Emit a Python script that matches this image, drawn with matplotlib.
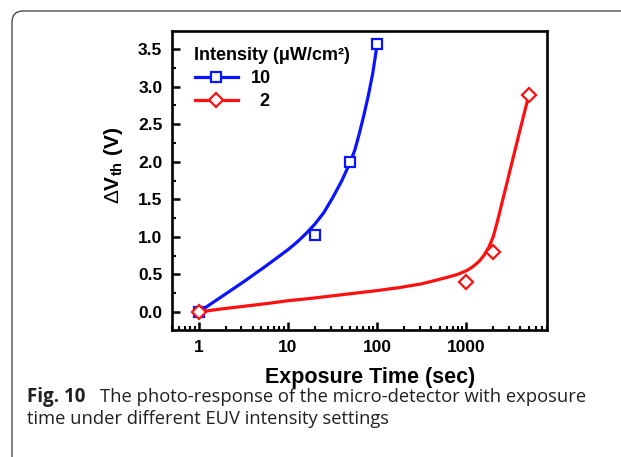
import matplotlib
matplotlib.use("Agg")
import matplotlib.pyplot as plt
from matplotlib.lines import Line2D
from matplotlib.patches import FancyBboxPatch
from matplotlib.transforms import IdentityTransform


# Measured threshold voltage shift
time_10 = [1, 20, 50, 100]
shift_10 = [0.0, 1.02, 2.0, 3.57]

time_2 = [1, 1000, 2000, 5000]
shift_2 = [0.0, 0.40, 0.80, 2.89]

# Fitted trend lines
fit_time_10 = [1, 1.78, 3.16, 5.62, 10, 12.6, 15.8, 20, 25.1, 31.6, 39.8, 50,
               56.2, 63.1, 70.8, 79.4, 89.1, 100]
fit_shift_10 = [0.0, 0.20, 0.40, 0.61, 0.83, 0.93, 1.04, 1.17, 1.32, 1.52, 1.74, 2.0,
                2.16, 2.38, 2.62, 2.88, 3.18, 3.57]

fit_time_2 = [1, 1.78, 3.16, 5.62, 10, 17.8, 31.6, 56.2, 100, 178, 316, 562, 794,
              1000, 1122, 1259, 1413, 1585, 1778, 1995, 2239, 2512, 3162, 3981, 5012]
fit_shift_2 = [0.0, 0.04, 0.075, 0.11, 0.15, 0.18, 0.215, 0.25, 0.285, 0.325, 0.375,
               0.45, 0.50, 0.55, 0.585, 0.63, 0.685, 0.76, 0.86, 1.0, 1.22, 1.46,
               1.94, 2.42, 2.89]

x_ticks = [1, 10, 100, 1000]
x_tick_labels = ["1", "10", "100", "1000"]
y_ticks = [0.0, 0.5, 1.0, 1.5, 2.0, 2.5, 3.0, 3.5]
y_minor_ticks = [0.25, 0.75, 1.25, 1.75, 2.25, 2.75, 3.25]

BLUE = "#0a14ff"
RED = "#ff1010"

plt.rcParams["font.family"] = ["Liberation Sans", "DejaVu Sans"]
plt.rcParams["mathtext.fontset"] = "custom"
plt.rcParams["mathtext.rm"] = "Liberation Sans:bold"
plt.rcParams["mathtext.it"] = "Liberation Sans:bold"
plt.rcParams["mathtext.bf"] = "Liberation Sans:bold"
plt.rcParams["mathtext.sf"] = "Liberation Sans"

W, H = 621, 457
fig = plt.figure(figsize=(W / 100, H / 100), dpi=100)


def fx(px):
    return px / W


def fy(py):
    return 1 - py / H


# Rounded panel border (pixel coordinates, origin bottom-left)
frame = FancyBboxPatch(
    (12, -30), 700, H - 11 + 30,
    boxstyle="round,pad=0,rounding_size=11",
    transform=IdentityTransform(), facecolor="none",
    edgecolor="#3a3a3a", linewidth=0.9
)
fig.patches.append(frame)

ax = fig.add_axes([fx(172), fy(330), fx(547) - fx(172), fy(31) - fy(330)])

ax.plot(fit_time_10, fit_shift_10, color=BLUE, linewidth=2.3,
        solid_joinstyle="round", zorder=2)
ax.plot(fit_time_2, fit_shift_2, color=RED, linewidth=2.3,
        solid_joinstyle="round", zorder=2)

ax.plot(time_10, shift_10, linestyle="none", marker="s", markersize=7,
        markerfacecolor="white", markeredgecolor=BLUE, markeredgewidth=1.6, zorder=3)
ax.plot(time_2, shift_2, linestyle="none", marker="D", markersize=7.5,
        markerfacecolor="white", markeredgecolor=RED, markeredgewidth=1.6, zorder=3)

ax.set_xscale("log")
ax.set_xlim(0.5, 8000)
ax.set_ylim(-0.24, 3.74)
ax.set_xticks(x_ticks)
ax.set_xticklabels(x_tick_labels)
ax.set_yticks(y_ticks)
ax.set_yticks(y_minor_ticks, minor=True)
ax.set_yticklabels([f"{v:.1f}" for v in y_ticks])

for spine in ax.spines.values():
    spine.set_linewidth(1.9)

ax.tick_params(which="major", direction="in", length=5.5, width=1.8,
               labelsize=12.5, top=False, right=False)
ax.tick_params(which="minor", direction="in", length=3, width=1.5,
               top=False, right=False)
ax.tick_params(axis="x", which="major", pad=7)
ax.tick_params(axis="y", which="major", pad=7)
for label in ax.get_xticklabels() + ax.get_yticklabels():
    label.set_fontweight("bold")

ax.set_xlabel("Exposure Time (sec)", fontsize=15.5, fontweight="bold")
ax.xaxis.set_label_coords(0.528, -0.16)
ax.xaxis.label.set_va("center")

ax.set_ylabel(r"$\mathsf{\Delta}$V$_{\rm th}$ (V)", fontsize=15, fontweight="bold")
ax.yaxis.set_label_coords(-0.157, 0.55)
ax.yaxis.label.set_va("center")

handles = [
    Line2D([], [], color=BLUE, linewidth=2.3, marker="s", markersize=7,
           markerfacecolor="white", markeredgecolor=BLUE, markeredgewidth=1.6),
    Line2D([], [], color=RED, linewidth=2.3, marker="D", markersize=7.5,
           markerfacecolor="white", markeredgecolor=RED, markeredgewidth=1.6),
]
legend = ax.legend(
    handles, ["10", "  2"], title="Intensity (\u03bcW/cm\u00b2)",
    loc="upper left", bbox_to_anchor=(0.06, 0.945), frameon=False,
    borderaxespad=0, borderpad=0, handlelength=2.4, handletextpad=0.7,
    labelspacing=0.33, numpoints=1, alignment="left",
    prop={"weight": "bold", "size": 13},
    title_fontproperties={"weight": "bold", "size": 13},
)

# Caption under the chart
fig.text(fx(27), fy(397), "Fig. 10", family="Open Sans", fontweight="bold",
         fontsize=13.5, va="center", ha="left", color="#231f20")
fig.text(fx(100), fy(397), "The photo-response of the micro-detector with exposure",
         family="Open Sans", fontsize=13.2, va="center", ha="left", color="#231f20")
fig.text(fx(27), fy(419), "time under different EUV intensity settings",
         family="Open Sans", fontsize=13.2, va="center", ha="left", color="#231f20")

fig.savefig("out.png", dpi=100)
